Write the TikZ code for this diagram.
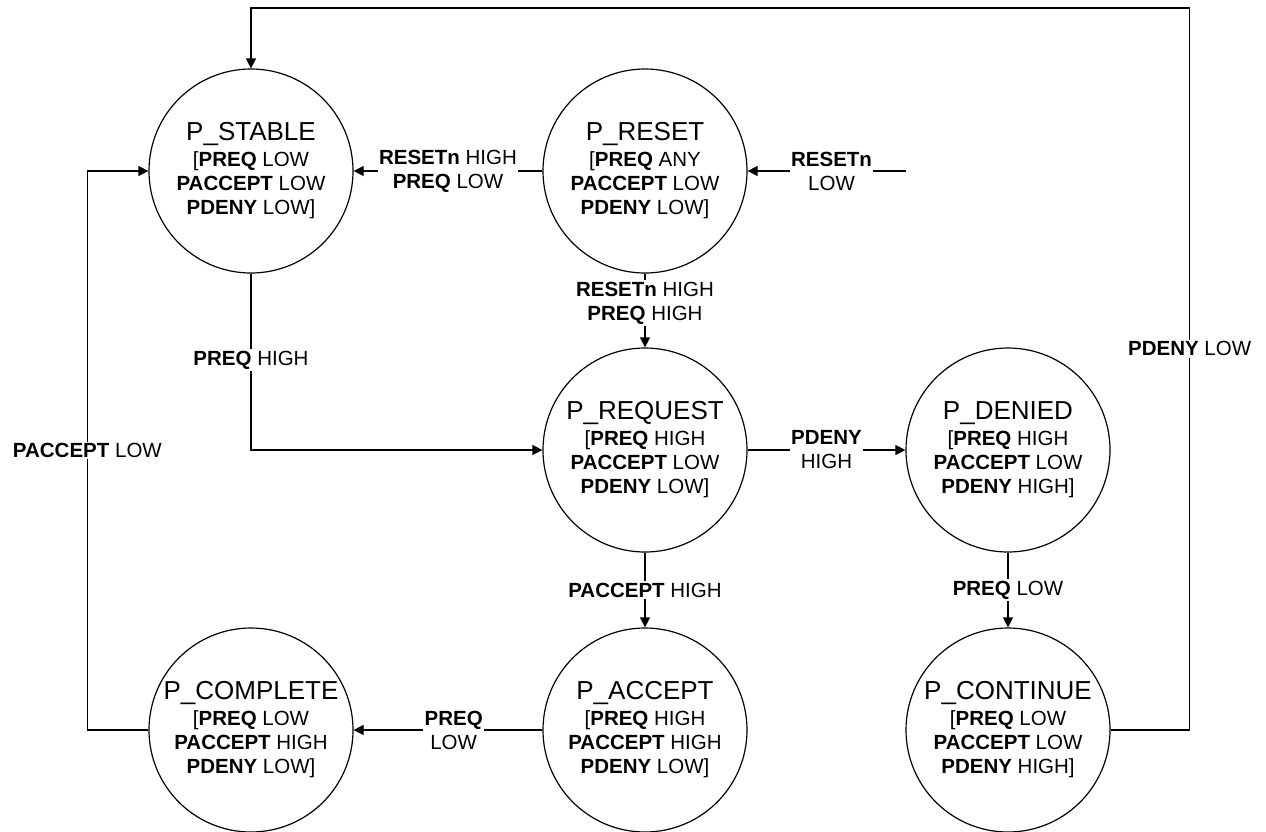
\documentclass[tikz,border=0pt]{standalone}
\usepackage{fontspec}
\setmainfont{Liberation Sans}
\usetikzlibrary{arrows.meta}
% state title, set larger than the condition lines below it
\newcommand{\sttitle}[1]{{\fontsize{26}{26}\selectfont #1}\\[2pt]}
\begin{document}
\begin{tikzpicture}[x=1pt,y=-1pt,
  state/.style={circle,draw,line width=1.2pt,minimum size=204pt,inner sep=0pt,
    align=center,font=\fontsize{20.5}{24}\selectfont},
  link/.style={line width=1.2pt,-{Triangle[length=10pt,width=10pt]}},
  wire/.style={line width=1.2pt},
  lbl/.style={fill=white,inner sep=1.5pt,align=center,font=\fontsize{20.5}{24}\selectfont}]
\useasboundingbox (0,0) rectangle (1266,831);

% states
\node[state] (st) at (251,171) {\sttitle{P\_STABLE}[\textbf{PREQ} LOW\\\textbf{PACCEPT} LOW\\\textbf{PDENY} LOW]};
\node[state] (rs) at (645,171) {\sttitle{P\_RESET}[\textbf{PREQ} ANY\\\textbf{PACCEPT} LOW\\\textbf{PDENY} LOW]};
\node[state] (rq) at (645,450) {\sttitle{P\_REQUEST}[\textbf{PREQ} HIGH\\\textbf{PACCEPT} LOW\\\textbf{PDENY} LOW]};
\node[state] (dn) at (1008,450) {\sttitle{P\_DENIED}[\textbf{PREQ} HIGH\\\textbf{PACCEPT} LOW\\\textbf{PDENY} HIGH]};
\node[state] (ac) at (645,730) {\sttitle{P\_ACCEPT}[\textbf{PREQ} HIGH\\\textbf{PACCEPT} HIGH\\\textbf{PDENY} LOW]};
\node[state] (cm) at (251,730) {\sttitle{P\_COMPLETE}[\textbf{PREQ} LOW\\\textbf{PACCEPT} HIGH\\\textbf{PDENY} LOW]};
\node[state] (cn) at (1008,730) {\sttitle{P\_CONTINUE}[\textbf{PREQ} LOW\\\textbf{PACCEPT} LOW\\\textbf{PDENY} HIGH]};

% reset input
\coordinate (rin) at (906,171);
\draw[link] (rin) -- node[lbl,pos=0.47]{\textbf{RESETn}\\LOW} (rs.east);

% transitions
\draw[link] (rs.west) -- node[lbl]{\textbf{RESETn} HIGH\\\textbf{PREQ} LOW} (st.east);
\draw[link] (rs.south) -- node[lbl,pos=0.4]{\textbf{RESETn} HIGH\\\textbf{PREQ} HIGH} (rq.north);
\draw[link] (st.south) -- node[lbl,pos=0.49]{\textbf{PREQ} HIGH} (st.south |- rq.west) -- (rq.west);
\draw[link] (rq.east) -- node[lbl]{\textbf{PDENY}\\HIGH} (dn.west);
\draw[link] (rq.south) -- node[lbl]{\textbf{PACCEPT} HIGH} (ac.north);
\draw[link] (dn.south) -- node[lbl]{\textbf{PREQ} LOW} (cn.north);
\draw[link] (ac.west) -- node[lbl,pos=0.47]{\textbf{PREQ}\\LOW} (cm.east);
\draw[link] (cm.west) -- ++(-61,0) -- node[lbl]{\textbf{PACCEPT} LOW} ++(0,-559) -- (st.west);
\draw[link] (cn.east) -- ++(79,0) -- node[lbl,pos=0.528]{\textbf{PDENY} LOW} ++(0,-722) -- (st.north |- 0,8) -- (st.north);
\end{tikzpicture}
\end{document}
